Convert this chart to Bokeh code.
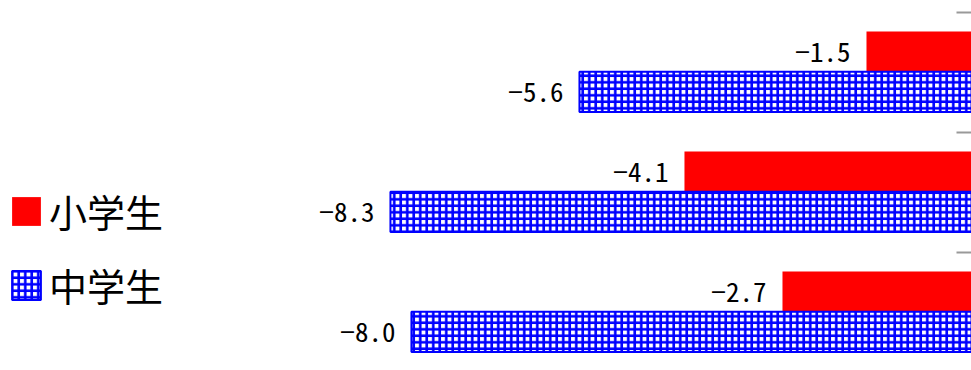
from bokeh.plotting import figure
from bokeh.models import (Range1d, LinearAxis, FixedTicker, Legend, LegendItem,
                          ColumnDataSource)
from bokeh.core.properties import value
from bokeh.embed import file_html
from bokeh.resources import INLINE

# Change values per group (top to bottom)
groups = ["A", "B", "C"]
elementary = [-1.5, -4.1, -2.7]   # 小学生
junior_high = [-5.6, -8.3, -8.0]  # 中学生
series_names = ["小学生", "中学生"]

FONT = "Noto Sans CJK JP"
LABEL_FONT = "'Noto Sans Mono CJK JP', 'Noto Sans CJK JP'"
BLUE = "#0000FF"
RED = "#FF0000"

def fmt(v):
    return f"{v:.1f}".replace("-", "\u2212")

idx = list(range(len(groups)))
src_e = ColumnDataSource(dict(
    y=[i + 0.325 for i in idx], v=elementary, lab=[fmt(v) for v in elementary]))
src_j = ColumnDataSource(dict(
    y=[i + 0.662 for i in idx], v=junior_high, lab=[fmt(v) for v in junior_high]))

p = figure(width=971, height=370, output_backend="svg", toolbar_location=None,
           x_range=Range1d(-13.87, 0.0), y_range=Range1d(2.983, -0.1),
           min_border=0, outline_line_color=None, x_axis_location=None,
           y_axis_location=None)
p.grid.visible = False
p.background_fill_color = "white"

r_e = p.hbar(y="y", right=0, left="v", height=0.335, source=src_e,
             fill_color=RED, line_color=None)
r_j = p.hbar(y="y", right=0, left="v", height=0.335, source=src_j,
             fill_color="white", line_color=BLUE, line_width=2,
             hatch_pattern="+", hatch_color=BLUE, hatch_scale=6.5,
             hatch_weight=2.6)

for src in (src_e, src_j):
    p.text(x="v", y="y", text="lab", source=src, text_align="right",
           text_baseline="middle", x_offset=-16, text_font=value(LABEL_FONT),
           text_font_size="27px", text_color="black")

ax = LinearAxis(ticker=FixedTicker(ticks=[0, 1, 2, 3]),
                major_label_overrides={0: "", 1: "", 2: "", 3: ""},
                major_label_standoff=0,
                major_tick_in=15, major_tick_out=0, minor_tick_line_color=None,
                axis_line_color="#DDDDDD", major_tick_line_color="#999999",
                major_tick_line_width=2)
p.add_layout(ax, "right")

legend = Legend(items=[LegendItem(label=series_names[0], renderers=[r_e]),
                       LegendItem(label=series_names[1], renderers=[r_j])],
                location=(8, 58), glyph_width=36, glyph_height=36,
                label_standoff=5, label_text_font=FONT,
                label_text_font_size="38px", label_text_color="black",
                spacing=19, padding=0, margin=0,
                border_line_color=None, background_fill_alpha=0)
p.add_layout(legend, "center")

open("out.html", "w").write(file_html(p, INLINE))
